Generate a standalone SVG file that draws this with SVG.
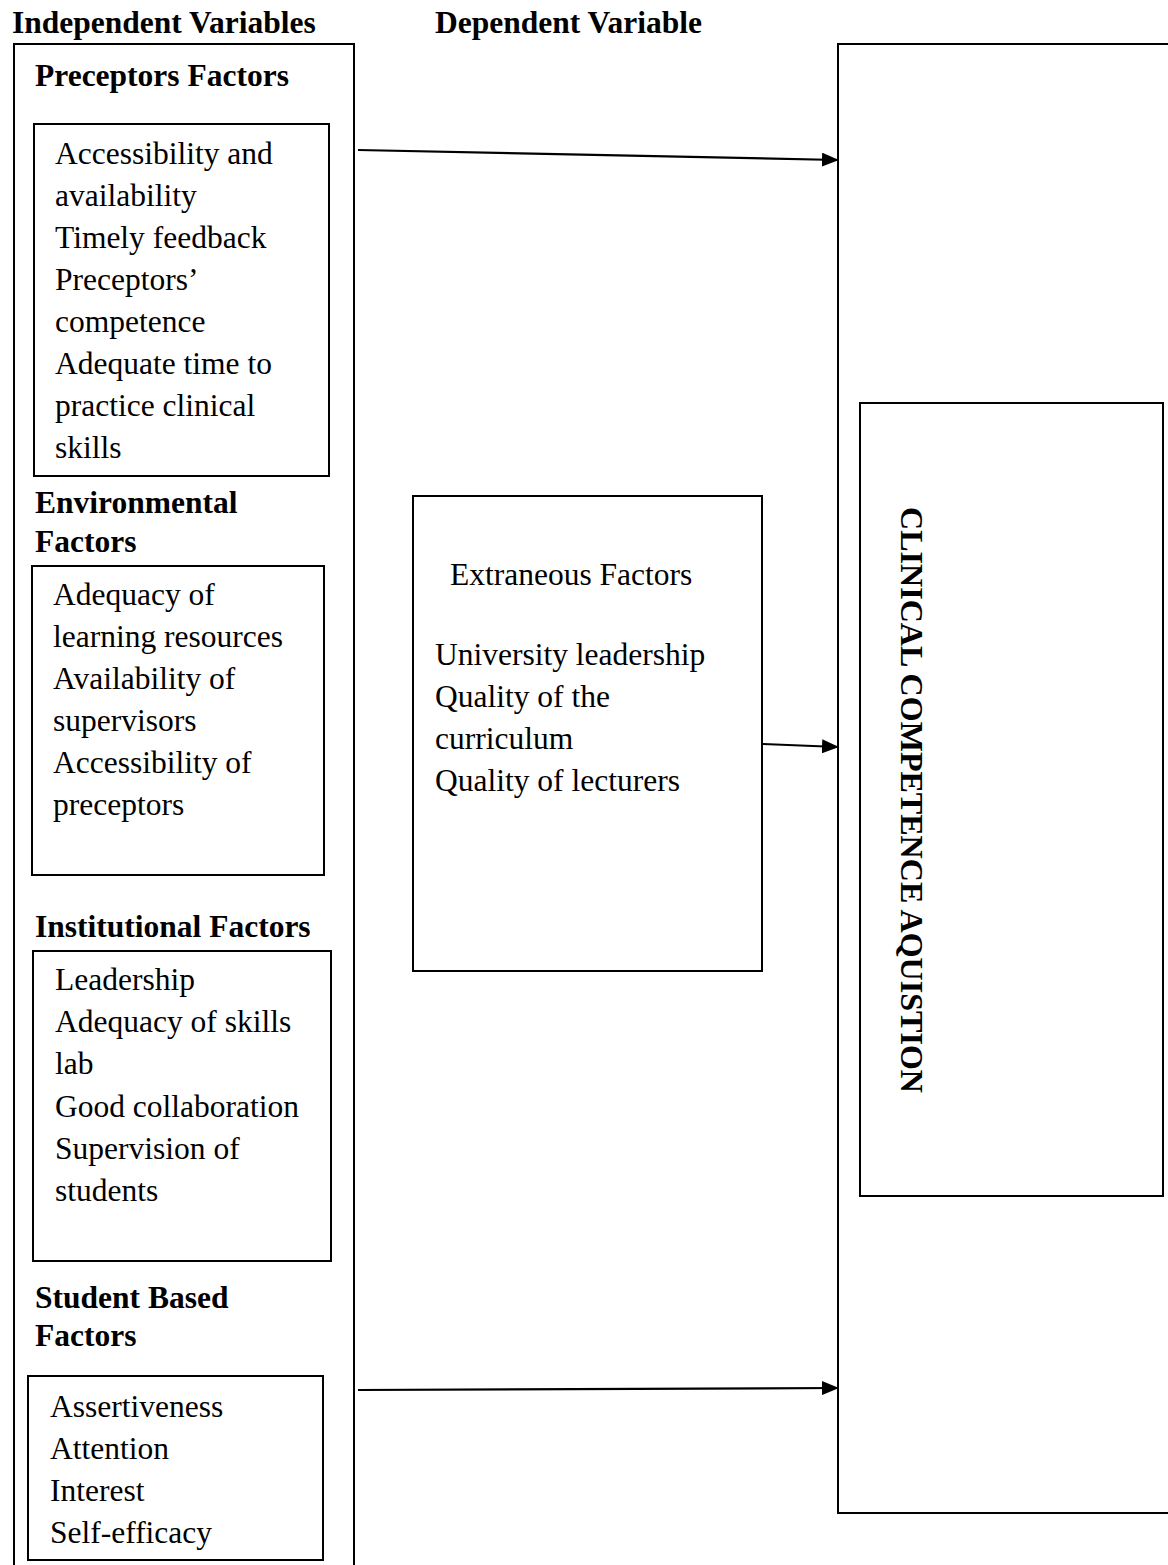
<svg xmlns="http://www.w3.org/2000/svg" width="1168" height="1565" viewBox="0 0 1168 1565">
<defs>
<style>
text{font-family:"Liberation Serif","Times New Roman",serif;font-size:31.5px;fill:#000}
.b{font-weight:bold}
.box{fill:none;stroke:#000;stroke-width:2}
.conn{fill:none;stroke:#000;stroke-width:2.2}
</style>
<marker id="ah" markerUnits="userSpaceOnUse" markerWidth="18" markerHeight="14" refX="16" refY="7" orient="auto">
<polygon points="0,0 17,7 0,14" fill="#000"/>
</marker>
</defs>
<rect width="1168" height="1565" fill="#fff"/>
<g id="headers">
<text class="b" x="12" y="33">Independent Variables</text>
<text class="b" x="435" y="33">Dependent Variable</text>
</g>
<g id="independent">
<rect class="box" x="14" y="44" width="340" height="1540"/>
<text class="b" x="35" y="86">Preceptors Factors</text>
</g>
<g id="preceptors">
<rect class="box" x="34" y="124" width="295" height="352"/>
<text x="55" y="164">Accessibility and</text>
<text x="55" y="206">availability</text>
<text x="55" y="248">Timely feedback</text>
<text x="55" y="290">Preceptors’</text>
<text x="55" y="332">competence</text>
<text x="55" y="374">Adequate time to</text>
<text x="55" y="416">practice clinical</text>
<text x="55" y="458">skills</text>
</g>
<g id="environmental">
<text class="b" x="35" y="513">Environmental</text>
<text class="b" x="35" y="552">Factors</text>
<rect class="box" x="32" y="566" width="292" height="309"/>
<text x="53" y="605">Adequacy of</text>
<text x="53" y="647">learning resources</text>
<text x="53" y="689">Availability of</text>
<text x="53" y="731">supervisors</text>
<text x="53" y="773">Accessibility of</text>
<text x="53" y="815">preceptors</text>
</g>
<g id="institutional">
<text class="b" x="35" y="937">Institutional Factors</text>
<rect class="box" x="33" y="951" width="298" height="310"/>
<text x="55" y="990">Leadership</text>
<text x="55" y="1032">Adequacy of skills</text>
<text x="55" y="1074">lab</text>
<text x="55" y="1117">Good collaboration</text>
<text x="55" y="1159">Supervision of</text>
<text x="55" y="1201">students</text>
</g>
<g id="student">
<text class="b" x="35" y="1308">Student Based</text>
<text class="b" x="35" y="1346">Factors</text>
<rect class="box" x="28" y="1376" width="295" height="184"/>
<text x="50" y="1417">Assertiveness</text>
<text x="50" y="1459">Attention</text>
<text x="50" y="1501">Interest</text>
<text x="50" y="1543">Self-efficacy</text>
</g>
<g id="extraneous">
<rect class="box" x="413" y="496" width="349" height="475"/>
<text x="450" y="585">Extraneous Factors</text>
<text x="435" y="665">University leadership</text>
<text x="435" y="707">Quality of the</text>
<text x="435" y="749">curriculum</text>
<text x="435" y="791">Quality of lecturers</text>
</g>
<g id="dependent">
<rect class="box" x="838" y="44" width="340" height="1469"/>
<rect class="box" x="860" y="403" width="303" height="793"/>
<text class="b" transform="translate(901,507) rotate(90)" textLength="586" lengthAdjust="spacingAndGlyphs">CLINICAL COMPETENCE AQUISTION</text>
</g>
<g id="connectors">
<line class="conn" x1="358" y1="150" x2="838" y2="160" marker-end="url(#ah)"/>
<line class="conn" x1="763" y1="744" x2="838" y2="747" marker-end="url(#ah)"/>
<line class="conn" x1="358" y1="1390" x2="838" y2="1388" marker-end="url(#ah)"/>
</g>
</svg>
